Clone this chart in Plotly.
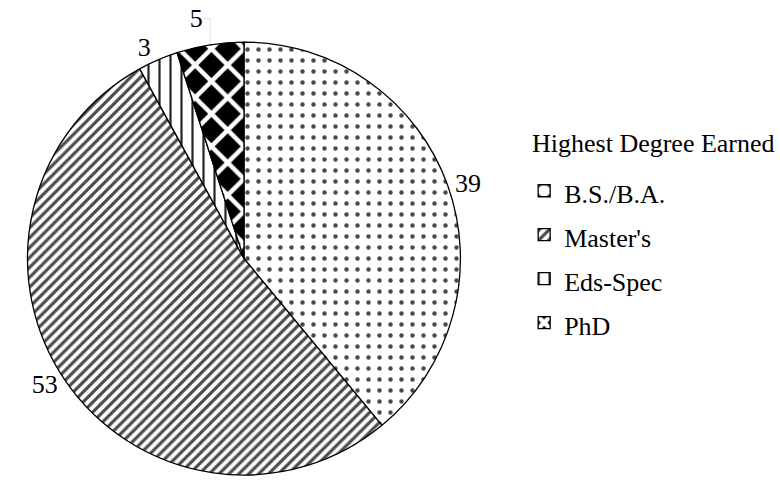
import plotly.graph_objects as go

# Highest degree earned by respondents (counts)
degrees = ["B.S./B.A.", "Master's", "Eds-Spec", "PhD"]
counts = [39, 53, 3, 5]
legend_title = "Highest Degree Earned"

# Fill pattern for each slice
shapes = [".", "/", "|", "x"]
fg_colors = ["#4a4a4a", "#4a4a4a", "#222222", "#ffffff"]
bg_colors = ["#ffffff", "#ffffff", "#ffffff", "#000000"]
sizes = [11, 7, 11, 23]
solidities = [0.13, 0.45, 0.2, 0.35]

SERIF = "Liberation Serif"
SPAN = '<span style="font-size:26px">{}</span>'

fig = go.Figure(
    go.Pie(
        labels=[SPAN.format(d) for d in degrees],
        values=counts,
        sort=False,
        direction="clockwise",
        rotation=0,
        textinfo="value",
        textposition="outside",
        texttemplate=SPAN.format("%{value}"),
        # small base size keeps the connector strokes hairline-thin
        outsidetextfont=dict(family=SERIF, size=1, color="black"),
        marker=dict(
            colors=bg_colors,
            line=dict(color="black", width=1.3),
            pattern=dict(
                shape=shapes,
                fgcolor=fg_colors,
                bgcolor=bg_colors,
                size=sizes,
                solidity=solidities,
                fillmode="replace",
            ),
        ),
        domain=dict(x=[0.0282, 0.5974], y=[0.0, 0.925]),
        hoverinfo="value",
    )
)

fig.update_layout(
    width=780,
    height=480,
    margin=dict(l=0, r=0, t=0, b=0),
    paper_bgcolor="white",
    plot_bgcolor="white",
    font=dict(family=SERIF, color="black"),
    showlegend=True,
    legend=dict(
        x=0.672,
        y=0.665,
        xanchor="left",
        yanchor="top",
        font=dict(family=SERIF, size=31.5, color="black"),
        bgcolor="rgba(0,0,0,0)",
    ),
    annotations=[
        dict(
            text=legend_title,
            xref="paper", yref="paper",
            x=0.679, y=1 - 140 / 480,
            xanchor="left", yanchor="middle",
            showarrow=False,
            font=dict(family=SERIF, size=26, color="black"),
        )
    ],
)

fig.write_html("out.html")
